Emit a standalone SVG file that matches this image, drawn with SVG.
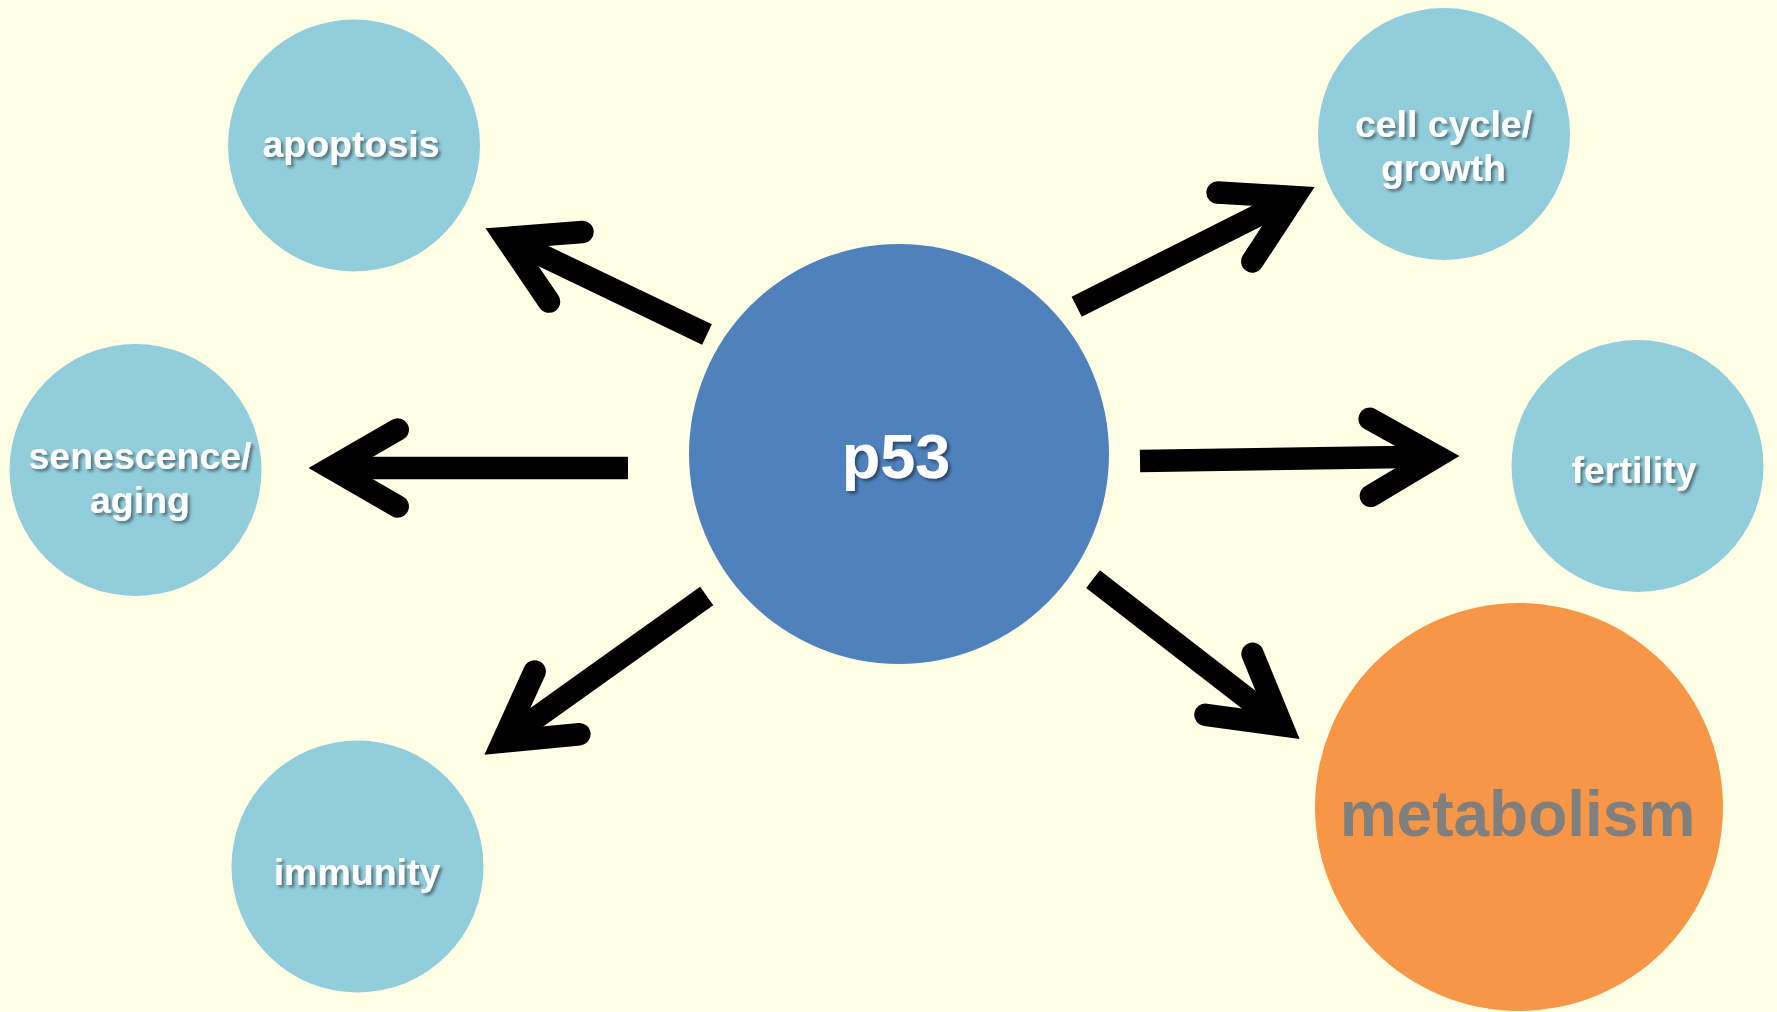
<svg xmlns="http://www.w3.org/2000/svg" width="1777" height="1012" viewBox="0 0 1777 1012">
<defs>
<filter id="sh" x="-10%" y="-30%" width="130%" height="170%">
<feDropShadow dx="2.5" dy="2.5" stdDeviation="1.5" flood-color="#000" flood-opacity="0.45"/>
</filter>
<style>
.small{fill:#92CDDC}
.lbl{font-family:"Liberation Sans",Arial,sans-serif;font-weight:bold;font-size:37.5px;fill:#fff;text-anchor:middle;filter:url(#sh)}
.shaft{stroke:#000;stroke-width:22.5;fill:none;stroke-linecap:butt}
.head{stroke:#000;stroke-width:22.5;fill:none;stroke-linecap:round;stroke-linejoin:miter;stroke-miterlimit:10}
</style>
</defs>
<rect width="1777" height="1012" fill="#FFFFE6"/>
<g id="p53">
<circle cx="899" cy="454" r="210" fill="#4F81BD"/>
<text x="896" y="478" class="lbl" style="font-size:63px">p53</text>
</g>
<g id="apoptosis">
<circle class="small" cx="354" cy="145.5" r="126"/>
<text class="lbl" x="351" y="157">apoptosis</text>
</g>
<g id="cellcycle">
<circle class="small" cx="1444" cy="134" r="126"/>
<text class="lbl" x="1443.5" y="137">cell cycle/</text>
<text class="lbl" x="1443.5" y="181">growth</text>
</g>
<g id="senescence">
<circle class="small" cx="135.5" cy="470" r="126"/>
<text class="lbl" x="140" y="469">senescence/</text>
<text class="lbl" x="140" y="513">aging</text>
</g>
<g id="fertility">
<circle class="small" cx="1637.5" cy="466" r="126"/>
<text class="lbl" x="1634" y="483">fertility</text>
</g>
<g id="immunity">
<circle class="small" cx="357.5" cy="866.5" r="126"/>
<text class="lbl" x="357" y="885">immunity</text>
</g>
<g id="metabolism">
<circle cx="1519" cy="807" r="204" fill="#F79646"/>
<text x="1517.5" y="836" font-family="'Liberation Sans',Arial,sans-serif" font-weight="bold" font-size="64" fill="#7F7F7F" text-anchor="middle">metabolism</text>
</g>
<g id="connectors">
<path class="shaft" d="M707,334.5 L505.7,238"/>
<path class="head" d="M582.5,232 L505.7,238 L549,301.6"/>
<path class="shaft" d="M1076.7,306.7 L1294.5,197"/>
<path class="head" d="M1217.6,192.6 L1294.5,197 L1252.3,261.4"/>
<path class="shaft" d="M628,468 L331,468"/>
<path class="head" d="M397.7,429.5 L331,468 L397.7,506.5"/>
<path class="shaft" d="M1140,461 L1437,456.4"/>
<path class="head" d="M1369.7,418.9 L1437,456.4 L1370.9,495.9"/>
<path class="shaft" d="M706.7,596 L502.7,741.6"/>
<path class="head" d="M534.6,671.5 L502.7,741.6 L579.4,734.2"/>
<path class="shaft" d="M1093,579.2 L1281.8,725.2"/>
<path class="head" d="M1252.6,653.9 L1281.8,725.2 L1205.5,714.8"/>
</g>
</svg>
